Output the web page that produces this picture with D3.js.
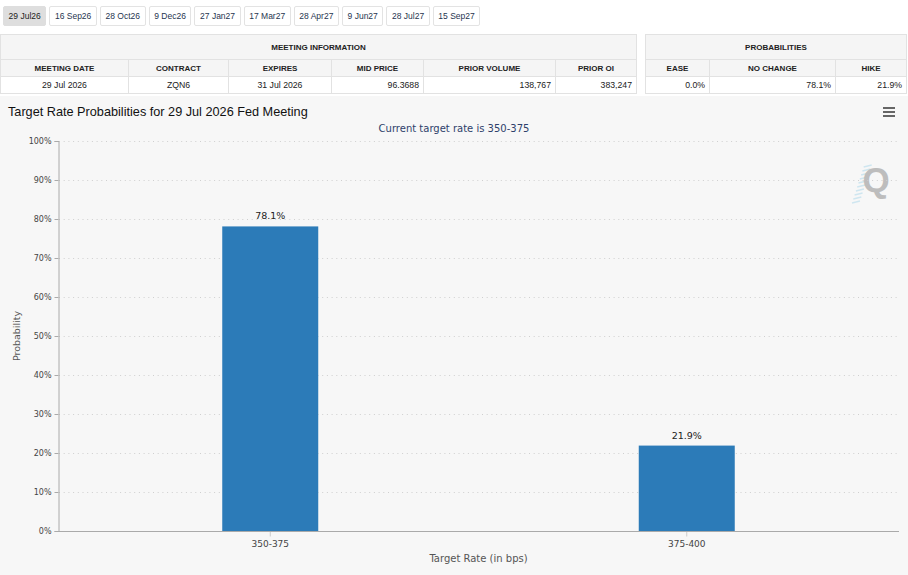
<!DOCTYPE html>
<html>
<head>
<meta charset="utf-8">
<script src="https://cdn.jsdelivr.net/npm/d3@7"></script>
<style>
  body { margin: 0; width: 908px; height: 575px; overflow: hidden; background: #fff; font-family: "Liberation Sans", Arial, sans-serif; }
  #tabs { position: absolute; left: 3px; top: 6px; display: flex; gap: 3px; }
  .tab { height: 18px; line-height: 18px; padding: 0 4.6px; font-size: 8.5px; color: #1f3550; border: 1px solid #e3e3e3; border-radius: 2px; background: #fff; box-sizing: content-box; }
  .tab.active { background: #dedede; border-color: #dedede; color: #222; }
  table { position: absolute; border-collapse: collapse; table-layout: fixed; font-size: 8.7px; color: #222; }
  td, th { border: 1px solid #e2e2e2; padding: 0 4px; overflow: hidden; white-space: nowrap; }
  th { font-weight: bold; font-size: 8px; background: #f5f5f5; text-align: center; }
  tr.group th { height: 24px; }
  tr.cols th { height: 16px; }
  tr.vals td { height: 16px; background: #fff; }
  #chart { position: absolute; left: 0; top: 96px; }
</style>
</head>
<body>
<div id="tabs"></div>
<svg id="chart" width="908" height="479"></svg>
<script>
"use strict";

const MEETINGS = ["29 Jul26", "16 Sep26", "28 Oct26", "9 Dec26", "27 Jan27", "17 Mar27", "28 Apr27", "9 Jun27", "28 Jul27", "15 Sep27"];

const INFO_HEADERS = ["MEETING DATE", "CONTRACT", "EXPIRES", "MID PRICE", "PRIOR VOLUME", "PRIOR OI"];
const INFO_VALUES = ["29 Jul 2026", "ZQN6", "31 Jul 2026", "96.3688", "138,767", "383,247"];

const PROB_HEADERS = ["EASE", "NO CHANGE", "HIKE"];
const PROB_VALUES = ["0.0%", "78.1%", "21.9%"];

const RATE_BUCKETS = ["350-375", "375-400"];
const RATE_PROBS = [78.1, 21.9];

const CURRENT_RATE = "350-375";
const MEETING_LABEL = "29 Jul 2026";

// layout (svg coordinates, svg sits 96px down the page)
const SVG_W = 908;
const PLOT_LEFT = 58;
const PLOT_RIGHT = 899;
const BAND_LEFT = 62;
const BAND_RIGHT = 895;
const PLOT_TOP = 45;
const PLOT_BOTTOM = 435;
const BAR_COLOR = "#2c7bb8";

// --- meeting tabs
d3.select("#tabs").selectAll("div")
    .data(MEETINGS)
    .enter()
    .append("div")
    .attr("class", function (d, i) { return i === 0 ? "tab active" : "tab"; })
    .text(function (d) { return d; });

// --- tables
function buildTable(left, top, colWidths, title, headers, values, aligns) {
    const table = d3.select("body").append("table")
        .style("left", left + "px")
        .style("top", top + "px")
        .style("width", d3.sum(colWidths) + "px");

    const colgroup = table.append("colgroup");
    colWidths.forEach(function (w) {
        colgroup.append("col").style("width", w + "px");
    });

    table.append("tr").attr("class", "group")
        .append("th")
        .attr("colspan", headers.length)
        .text(title);

    table.append("tr").attr("class", "cols")
        .selectAll("th")
        .data(headers)
        .enter()
        .append("th")
        .text(function (d) { return d; });

    table.append("tr").attr("class", "vals")
        .selectAll("td")
        .data(values)
        .enter()
        .append("td")
        .style("text-align", function (d, i) { return aligns[i]; })
        .text(function (d) { return d; });
}

buildTable(0, 34, [128, 100, 103, 92, 132, 81], "MEETING INFORMATION",
    INFO_HEADERS, INFO_VALUES, ["center", "center", "center", "right", "right", "right"]);
buildTable(645, 34, [64, 126, 71], "PROBABILITIES",
    PROB_HEADERS, PROB_VALUES, ["right", "right", "right"]);

// --- chart
const svg = d3.select("#chart");

svg.append("rect")
    .attr("width", SVG_W)
    .attr("height", 479)
    .attr("fill", "#f7f7f7");

svg.append("text")
    .attr("x", 8)
    .attr("y", 19.5)
    .style("font-family", "'Liberation Sans', Arial, sans-serif")
    .style("font-size", "12.7px")
    .style("fill", "#111")
    .text("Target Rate Probabilities for " + MEETING_LABEL + " Fed Meeting");

svg.append("text")
    .attr("x", 454)
    .attr("y", 36)
    .attr("text-anchor", "middle")
    .style("font-family", "'DejaVu Sans', sans-serif")
    .style("font-size", "10px")
    .style("fill", "#2e3f6b")
    .text("Current target rate is " + CURRENT_RATE);

// menu icon
[12, 16, 20].forEach(function (y) {
    svg.append("line")
        .attr("x1", 883).attr("x2", 895)
        .attr("y1", y).attr("y2", y)
        .attr("stroke", "#666")
        .attr("stroke-width", 2);
});

// watermark
const mark = svg.append("g");
for (let k = 0; k < 10; k++) {
    mark.append("line")
        .attr("x1", 852 + k * 1.3).attr("x2", 860 + k * 1.3)
        .attr("y1", 107 - k * 4).attr("y2", 105 - k * 4)
        .attr("stroke", "#cfe6f0")
        .attr("stroke-width", 1.4);
}
mark.append("text")
    .attr("x", 876)
    .attr("y", 96)
    .attr("text-anchor", "middle")
    .style("font-family", "'Liberation Sans', Arial, sans-serif")
    .style("font-weight", "bold")
    .style("font-size", "35px")
    .style("fill", "#bdbdbd")
    .text("Q");

const x = d3.scaleBand()
    .domain(RATE_BUCKETS)
    .range([BAND_LEFT, BAND_RIGHT])
    .paddingInner(0.7695)
    .paddingOuter(0.38475);

const y = d3.scaleLinear()
    .domain([0, 100])
    .range([PLOT_BOTTOM, PLOT_TOP]);

// grid
svg.append("g")
    .selectAll("line")
    .data(y.ticks(10).filter(function (d) { return d > 0; }))
    .enter()
    .append("line")
    .attr("x1", PLOT_LEFT + 1)
    .attr("x2", PLOT_RIGHT)
    .attr("y1", function (d) { return y(d) + 0.5; })
    .attr("y2", function (d) { return y(d) + 0.5; })
    .attr("stroke", "#cfcfcf")
    .attr("stroke-dasharray", "1,3.7");

// y axis
const yAxis = svg.append("g")
    .attr("transform", "translate(" + (PLOT_LEFT + 0.5) + ",0)")
    .call(d3.axisLeft(y).ticks(10).tickSize(4).tickPadding(3)
        .tickFormat(function (d) { return d + "%"; }));
yAxis.select(".domain").attr("stroke", "#aaa");
yAxis.selectAll(".tick line").attr("stroke", "#aaa");
yAxis.selectAll(".tick text")
    .style("font-family", "'DejaVu Sans', sans-serif")
    .style("font-size", "8px")
    .style("fill", "#444");

// x axis
const xAxis = svg.append("g")
    .attr("transform", "translate(0," + (PLOT_BOTTOM + 0.5) + ")")
    .call(d3.axisBottom(x).tickSize(5).tickSizeOuter(0).tickPadding(4));
xAxis.select(".domain").remove();
xAxis.selectAll(".tick line").attr("stroke", "#ccc");
xAxis.selectAll(".tick text")
    .style("font-family", "'DejaVu Sans', sans-serif")
    .style("font-size", "9px")
    .style("fill", "#444");
xAxis.append("line")
    .attr("x1", PLOT_LEFT)
    .attr("x2", PLOT_RIGHT)
    .attr("stroke", "#aaa");

svg.append("text")
    .attr("x", (PLOT_LEFT + PLOT_RIGHT) / 2)
    .attr("y", 466)
    .attr("text-anchor", "middle")
    .style("font-family", "'DejaVu Sans', sans-serif")
    .style("font-size", "10px")
    .style("fill", "#555")
    .text("Target Rate (in bps)");

svg.append("text")
    .attr("transform", "translate(20," + ((PLOT_TOP + PLOT_BOTTOM) / 2) + ") rotate(-90)")
    .attr("text-anchor", "middle")
    .style("font-family", "'DejaVu Sans', sans-serif")
    .style("font-size", "9.5px")
    .style("fill", "#555")
    .text("Probability");

// bars
const bars = svg.append("g");
bars.selectAll("rect")
    .data(RATE_BUCKETS)
    .enter()
    .append("rect")
    .attr("x", function (d) { return x(d); })
    .attr("width", x.bandwidth())
    .attr("y", function (d, i) { return y(RATE_PROBS[i]); })
    .attr("height", function (d, i) { return PLOT_BOTTOM - y(RATE_PROBS[i]); })
    .attr("fill", BAR_COLOR);

bars.selectAll("text")
    .data(RATE_BUCKETS)
    .enter()
    .append("text")
    .attr("x", function (d) { return x(d) + x.bandwidth() / 2; })
    .attr("y", function (d, i) { return y(RATE_PROBS[i]) - 7; })
    .attr("text-anchor", "middle")
    .style("font-family", "'DejaVu Sans', sans-serif")
    .style("font-size", "9.5px")
    .style("fill", "#222")
    .text(function (d, i) { return RATE_PROBS[i].toFixed(1) + "%"; });
</script>
</body>
</html>
